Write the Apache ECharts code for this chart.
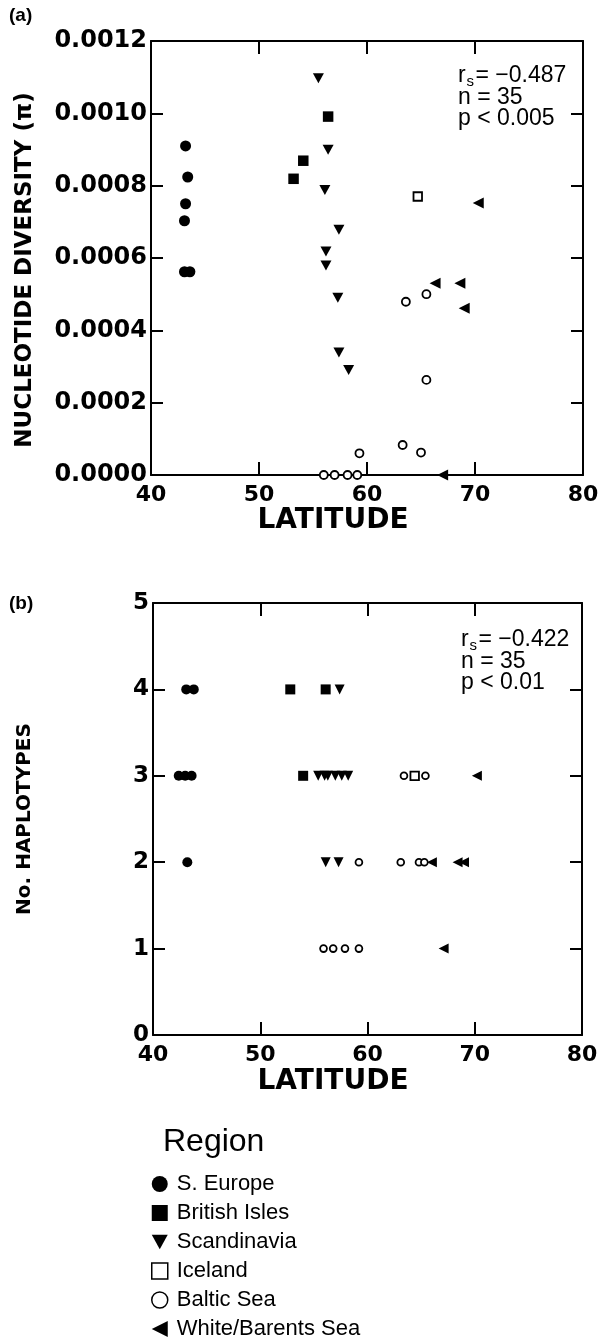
<!DOCTYPE html>
<html>
<head>
<meta charset="utf-8">
<script src="https://cdn.jsdelivr.net/npm/echarts@6/dist/echarts.min.js"></script>
<style>
  html, body { margin: 0; padding: 0; background: #fff; }
  #chart { width: 602px; height: 1342px; }
</style>
</head>
<body>
<div id="chart"></div>
<script>
var regionNames = ['S. Europe', 'British Isles', 'Scandinavia', 'Iceland', 'Baltic Sea', 'White/Barents Sea'];
var latTicks = [40, 50, 60, 70, 80];
var piTicks = [0, 0.0002, 0.0004, 0.0006, 0.0008, 0.0010, 0.0012];
var hapTicks = [0, 1, 2, 3, 4, 5];

// (a) [latitude, nucleotide diversity]
var piSEurope = [[43.2, 0.00091], [43.4, 0.000824], [43.2, 0.00075], [43.1, 0.000703], [43.1, 0.000562], [43.6, 0.000562]];
var piBritish = [[56.4, 0.000991], [54.1, 0.000869], [53.2, 0.000819]];
var piScandinavia = [[55.5, 0.001097], [56.4, 0.000899], [56.1, 0.000788], [57.4, 0.000678], [56.2, 0.000618],
  [56.2, 0.000579], [57.3, 0.00049], [57.4, 0.000339], [58.3, 0.00029]];
var piIceland = [[64.7, 0.00077]];
var piBaltic = [[63.6, 0.000479], [65.5, 0.0005], [65.5, 0.000263], [59.3, 0.00006], [63.3, 0.000083], [65.0, 0.000062],
  [56.0, 0], [57.0, 0], [58.2, 0], [59.1, 0]];
var piWhiteBarents = [[70.3, 0.000752], [66.3, 0.00053], [68.6, 0.00053], [69.0, 0.000461], [67.0, 0]];

// (b) [latitude, no. haplotypes]
var hapSEurope = [[43.1, 4], [43.8, 4], [42.4, 3], [43.0, 3], [43.6, 3], [43.2, 2]];
var hapBritish = [[52.8, 4], [56.1, 4], [54.0, 3]];
var hapScandinavia = [[57.4, 4], [55.4, 3], [56.0, 3], [56.3, 3], [57.0, 3], [57.6, 3], [58.2, 3], [56.1, 2], [57.3, 2]];
var hapIceland = [[64.4, 3]];
var hapBaltic = [[63.4, 3], [65.4, 3], [59.2, 2], [63.1, 2], [64.8, 2], [65.3, 2], [55.9, 1], [56.8, 1], [57.9, 1], [59.2, 1]];
var hapWhiteBarents = [[70.2, 3], [66.0, 2], [68.4, 2], [69.0, 2], [67.1, 1]];

var statsA = ['= \u22120.487', 'n = 35', 'p < 0.005'];
var statsB = ['= \u22120.422', 'n = 35', 'p < 0.01'];

var piData = [piSEurope, piBritish, piScandinavia, piIceland, piBaltic, piWhiteBarents];
var hapData = [hapSEurope, hapBritish, hapScandinavia, hapIceland, hapBaltic, hapWhiteBarents];

// marker look for each region (plot sizes + legend icon)
var markers = [
  { symbol: 'circle', rotate: 0, sizeA: 11, sizeB: 10, fill: '#000', border: 0, icon: 'circle' },
  { symbol: 'rect', rotate: 0, sizeA: 10.5, sizeB: 10, fill: '#000', border: 0, icon: 'rect' },
  { symbol: 'triangle', rotate: 180, sizeA: [11, 10], sizeB: [10, 10], fill: '#000', border: 0, icon: 'path://M0,0L10,0L5,9Z' },
  { symbol: 'rect', rotate: 0, sizeA: 8.5, sizeB: 8.5, fill: '#fff', border: 1.8, icon: 'rect' },
  { symbol: 'circle', rotate: 0, sizeA: 8, sizeB: 6.8, fill: '#fff', border: 1.8, icon: 'circle' },
  { symbol: 'triangle', rotate: 90, sizeA: [11, 11], sizeB: [10, 10], fill: '#000', border: 0, icon: 'path://M10,0L10,10L0,5Z' }
];

var bold = '"DejaVu Sans"';
var plain = '"Liberation Sans", Arial, sans-serif';
var axisLine = { show: true, onZero: false, lineStyle: { color: '#000', width: 2 } };

function xAxes (grid) {
  var base = {
    type: 'value', gridIndex: grid, min: latTicks[0], max: latTicks[latTicks.length - 1],
    interval: latTicks[1] - latTicks[0], splitLine: { show: false }, axisLine: axisLine,
    axisTick: { inside: true, length: 13, lineStyle: { color: '#000', width: 2 } }
  };
  var bottom = echarts.util.merge({
    position: 'bottom',
    axisLabel: { margin: 9, color: '#000', fontFamily: bold, fontWeight: 'bold', fontSize: 22 }
  }, base);
  var top = echarts.util.merge({ position: 'top', axisLabel: { show: false } }, base);
  return [bottom, top];
}

function yAxes (grid, ticks, fmt, size) {
  var base = {
    type: 'value', gridIndex: grid, min: ticks[0], max: ticks[ticks.length - 1],
    interval: ticks[1] - ticks[0], splitLine: { show: false }, axisLine: axisLine,
    axisTick: { inside: true, length: 12, lineStyle: { color: '#000', width: 2 } }
  };
  var left = echarts.util.merge({
    position: 'left',
    axisLabel: { margin: 4, color: '#000', fontFamily: bold, fontWeight: 'bold', fontSize: size, formatter: fmt }
  }, base);
  var right = echarts.util.merge({ position: 'right', axisLabel: { show: false } }, base);
  return [left, right];
}

var series = [];
function addPanel (dataSets, axisIndex, key) {
  dataSets.forEach(function (d, i) {
    var m = markers[i];
    series.push({
      name: regionNames[i],
      type: 'scatter',
      xAxisIndex: axisIndex,
      yAxisIndex: axisIndex,
      data: d,
      symbol: m.symbol,
      symbolRotate: m.rotate,
      symbolSize: m[key],
      itemStyle: { color: m.fill, borderColor: '#000', borderWidth: m.border, opacity: 1 },
      emphasis: { disabled: true }
    });
  });
}
addPanel(piData, 0, 'sizeA');
addPanel(hapData, 2, 'sizeB');

function txt (text, x, y, font, extra) {
  var el = {
    type: 'text', x: x, y: y,
    style: { text: text, font: font, fill: '#000', align: 'left', verticalAlign: 'middle', textAlign: 'left', textVerticalAlign: 'middle' }
  };
  if (extra) echarts.util.merge(el, extra, true);
  return el;
}

function statBlock (lines, x, y0, gap) {
  return [
    txt('r', x, y0, '23px ' + plain),
    txt('s', x + 8.5, y0 + 6, '15px ' + plain),
    txt(lines[0], x + 17.5, y0, '23px ' + plain),
    txt(lines[1], x, y0 + gap, '23px ' + plain),
    txt(lines[2], x, y0 + gap * 2, '23px ' + plain)
  ];
}

var center = { style: { align: 'center', textAlign: 'center' } };
var graphics = [
  txt('(a)', 9, 16, 'bold 19px ' + plain),
  txt('(b)', 9, 604, 'bold 19px ' + plain),
  txt('LATITUDE', 333, 521, 'bold 28px ' + bold, center),
  txt('LATITUDE', 333, 1082, 'bold 28px ' + bold, center),
  txt('NUCLEOTIDE DIVERSITY (\u03c0)', 25, 270, 'bold 23px ' + bold, echarts.util.merge({ rotation: Math.PI / 2 }, center)),
  txt('No. HAPLOTYPES', 25, 819, 'bold 20px ' + bold, echarts.util.merge({ rotation: Math.PI / 2 }, center)),
  txt('Region', 163, 1142, '32px ' + plain)
].concat(statBlock(statsA, 458, 76, 21.5), statBlock(statsB, 461, 640, 21.5));

var legendData = regionNames.map(function (n, i) {
  var m = markers[i];
  return {
    name: n,
    icon: m.icon,
    itemStyle: { color: m.fill, borderColor: '#000', borderWidth: m.border ? 1.5 : 0 }
  };
});

var chart = echarts.init(document.getElementById('chart'), null, { renderer: 'canvas' });
var option = {
  backgroundColor: '#fff',
  animation: false,
  grid: [
    { left: 151, top: 41, width: 432, height: 434 },
    { left: 153, top: 603, width: 429, height: 432 }
  ],
  xAxis: xAxes(0).concat(xAxes(1)),
  yAxis: yAxes(0, piTicks, function (v) { return v.toFixed(4); }, 24)
    .concat(yAxes(1, hapTicks, function (v) { return String(v); }, 23)),
  legend: {
    orient: 'vertical',
    left: 151,
    top: 1173,
    height: 200,
    padding: 0,
    itemWidth: 16,
    itemHeight: 16,
    itemGap: 7,
    selectedMode: false,
    data: legendData,
    textStyle: { color: '#000', fontFamily: plain, fontSize: 22, lineHeight: 22, padding: [0, 0, 0, 4] }
  },
  graphic: graphics,
  series: series
};
chart.setOption(option);
</script>
</body>
</html>
